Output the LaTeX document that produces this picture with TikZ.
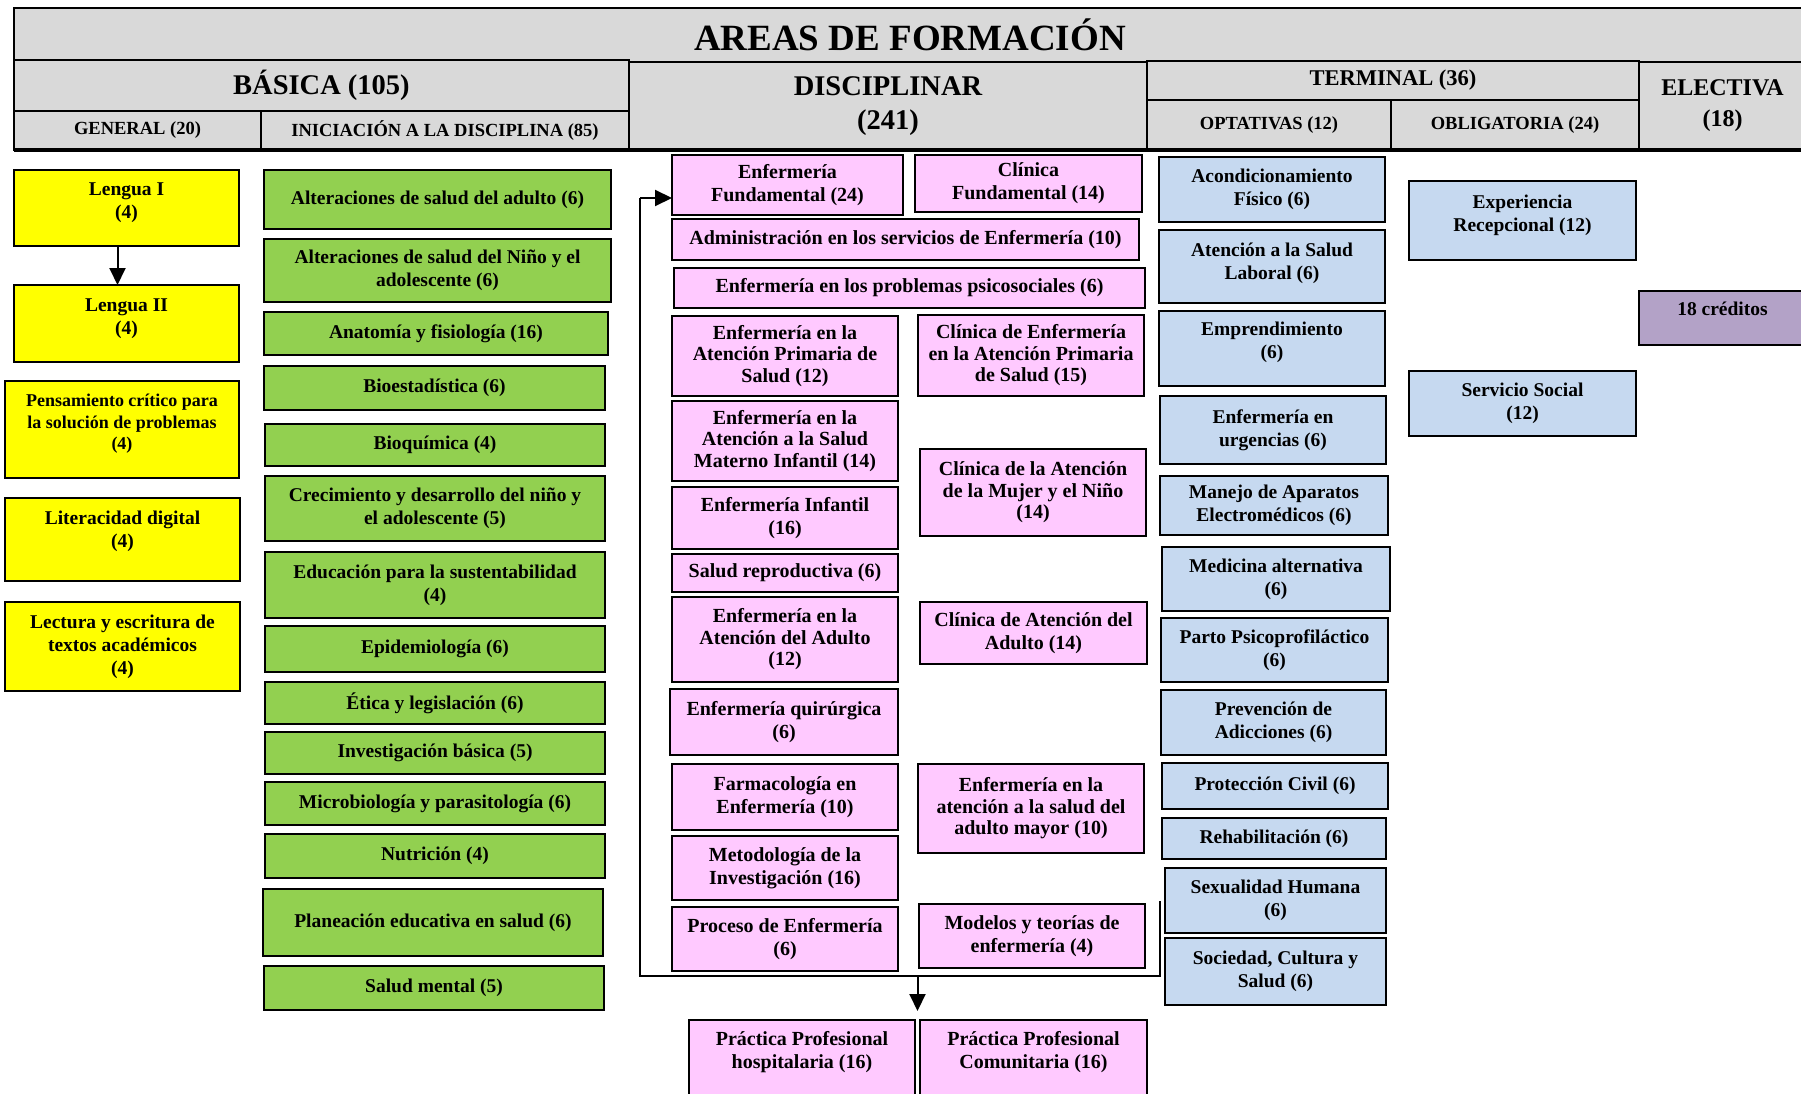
\documentclass[tikz,border=0pt]{standalone}
\usepackage{fontspec}
\setmainfont{Liberation Serif}
\usetikzlibrary{arrows.meta,calc}
\definecolor{yelC}{HTML}{FFFF00}
\definecolor{grnC}{HTML}{92D050}
\definecolor{pnkC}{HTML}{FFC9FF}
\definecolor{bluC}{HTML}{C6D9F0}
\definecolor{purC}{HTML}{B3A2C7}
\definecolor{hdrC}{HTML}{D9D9D9}
\tikzset{
  box/.style={draw=black, line width=2pt, inner sep=0pt, outer sep=0pt, anchor=north west, text=black},
  bodyfont/.style={font={\bfseries\fontsize{19.5}{23}\selectfont}},
  yel/.style={box, bodyfont, fill=yelC},
  yels/.style={box, fill=yelC, font={\bfseries\fontsize{18}{21.5}\selectfont}},
  grn/.style={box, bodyfont, fill=grnC},
  pnk/.style={box, fill=pnkC, font={\bfseries\fontsize{20}{23}\selectfont}},
  pnkt/.style={box, fill=pnkC, font={\bfseries\fontsize{20}{21.5}\selectfont}},
  blu/.style={box, bodyfont, fill=bluC},
  pur/.style={box, bodyfont, fill=purC, line width=1.5pt},
  hdr/.style={box, fill=hdrC, line width=2.5pt},
  hdrT/.style={hdr, font={\bfseries\fontsize{37}{40}\selectfont}},
  hdrB/.style={hdr, font={\bfseries\fontsize{28.5}{34}\selectfont}},
  hdrE/.style={hdr, font={\bfseries\fontsize{24}{31}\selectfont}},
  hdrM/.style={hdr, font={\bfseries\fontsize{22.5}{26}\selectfont}},
  hdrS/.style={hdr, font={\bfseries\fontsize{18.5}{22}\selectfont}},
  conn/.style={draw=black, line width=2pt},
  arr/.style={conn, -{Triangle[width=16pt,length=17pt]}},
}
% centred box: name, style, x1, y1, x2, y2, text
\newcommand\bx[7]{\node[#2] (#1) at (#3,#4) {\parbox[c][\dimexpr #6pt-#4pt\relax][c]{\dimexpr #5pt-#3pt\relax}{\centering #7\par}};}
% top aligned box: name, style, x1, y1, x2, y2, text, top pad
\newcommand\bxt[8]{\node[#2] (#1) at (#3,#4) {\parbox[c][\dimexpr #6pt-#4pt\relax][t]{\dimexpr #5pt-#3pt\relax}{\centering\vspace*{#8}#7\par}};}
\begin{document}
\begin{tikzpicture}[x=1pt,y=-1pt]
\useasboundingbox (0,0) rectangle (1801,1094);
\fill[white] (0,0) rectangle (1801,1094);
\clip (0,0) rectangle (1801,1094);
% ---------------- header ----------------
\bx{title}{hdrT}{14}{8}{1806}{62}{AREAS DE FORMACIÓN}
\bx{basica}{hdrB}{14}{60}{629}{111}{BÁSICA (105)}
\bx{general}{hdrS}{14}{111}{261}{150}{GENERAL (20)}
\bx{inic}{hdrS}{261}{111}{629}{150}{INICIACIÓN A LA DISCIPLINA (85)}
\bx{disc}{hdrB}{629}{62}{1147}{150}{DISCIPLINAR\\(241)}
\bx{term}{hdrM}{1147}{61}{1639}{100}{TERMINAL (36)}
\bx{opt}{hdrS}{1147}{100}{1391}{150}{OPTATIVAS (12)}
\bx{obl}{hdrS}{1391}{100}{1639}{150}{OBLIGATORIA (24)}
\bx{elec}{hdrE}{1639}{62}{1806}{150}{ELECTIVA\\(18)}
\draw[line width=4pt] (general.south west) -- (elec.south east);
% ---------------- GENERAL ----------------
\bxt{leng1}{yel}{14}{170}{239}{246}{Lengua I\\(4)}{13pt}
\bxt{leng2}{yel}{14}{285}{239}{362}{Lengua II\\(4)}{14pt}
\bxt{pens}{yels}{5}{381}{239}{478}{Pensamiento crítico para\\la solución de problemas\\(4)}{13pt}
\bxt{lit}{yel}{5}{498}{240}{581}{Literacidad digital\\(4)}{12.5pt}
\bx{lect}{yel}{5}{602}{240}{691}{Lectura y escritura de\\textos académicos\\(4)}
% ---------------- INICIACION ----------------
\bx{g1}{grn}{264}{170}{611}{229}{Alteraciones de salud del adulto (6)}
\bx{g2}{grn}{264}{239}{611}{302}{Alteraciones de salud del Niño y el\\adolescente (6)}
\bx{g3}{grn}{264}{312}{608}{355}{Anatomía y fisiología (16)}
\bx{g4}{grn}{264}{366}{605}{410}{Bioestadística (6)}
\bx{g5}{grn}{265}{424}{605}{466}{Bioquímica (4)}
\bx{g6}{grn}{265}{476}{605}{541}{Crecimiento y desarrollo del niño y\\el adolescente (5)}
\bx{g7}{grn}{265}{552}{605}{618}{Educación para la sustentabilidad\\(4)}
\bx{g8}{grn}{265}{626}{605}{672}{Epidemiología (6)}
\bx{g9}{grn}{265}{682}{605}{724}{Ética y legislación (6)}
\bx{g10}{grn}{265}{732}{605}{774}{Investigación básica (5)}
\bx{g11}{grn}{265}{782}{605}{825}{Microbiología y parasitología (6)}
\bx{g12}{grn}{265}{834}{605}{878}{Nutrición (4)}
\bx{g13}{grn}{263}{889}{603}{956}{Planeación educativa en salud (6)}
\bx{g14}{grn}{264}{966}{604}{1010}{Salud mental (5)}
% ---------------- DISCIPLINAR ----------------
\bx{p1}{pnk}{672}{155}{903}{215}{Enfermería\\Fundamental (24)}
\bx{p2}{pnk}{915}{155}{1142}{212}{Clínica\\Fundamental (14)}
\bx{p3}{pnk}{672}{219}{1139}{260}{Administración en los servicios de Enfermería (10)}
\bx{p4}{pnk}{674}{268}{1145}{308}{Enfermería en los problemas psicosociales (6)}
\bx{p5}{pnkt}{672}{316}{898}{396}{Enfermería en la\\Atención Primaria de\\Salud (12)}
\bx{p6}{pnkt}{918}{315}{1144}{396}{Clínica de Enfermería\\en la Atención Primaria\\de Salud (15)}
\bx{p7}{pnkt}{672}{401}{898}{481}{Enfermería en la\\Atención a la Salud\\Materno Infantil (14)}
\bx{p8}{pnk}{672}{487}{898}{549}{Enfermería Infantil\\(16)}
\bx{p9}{pnkt}{920}{449}{1146}{536}{Clínica de la Atención\\de la Mujer y el Niño\\(14)}
\bx{p10}{pnk}{672}{554}{898}{592}{Salud reproductiva (6)}
\bx{p11}{pnkt}{672}{597}{898}{682}{Enfermería en la\\Atención del Adulto\\(12)}
\bx{p12}{pnk}{920}{602}{1147}{664}{Clínica de Atención del\\Adulto (14)}
\bx{p13}{pnk}{670}{689}{898}{755}{Enfermería quirúrgica\\(6)}
\bx{p14}{pnk}{672}{764}{898}{830}{Farmacología en\\Enfermería (10)}
\bx{p15}{pnkt}{918}{764}{1144}{853}{Enfermería en la\\atención a la salud del\\adulto mayor (10)}
\bx{p16}{pnk}{672}{836}{898}{900}{Metodología de la\\Investigación (16)}
\bx{p17}{pnk}{672}{907}{898}{971}{Proceso de Enfermería\\(6)}
\bx{p18}{pnk}{919}{904}{1145}{968}{Modelos y teorías de\\enfermería (4)}
\bxt{pr1}{pnk}{689}{1020}{915}{1110}{Práctica Profesional\\hospitalaria (16)}{11pt}
\bxt{pr2}{pnk}{920}{1020}{1147}{1110}{Práctica Profesional\\Comunitaria (16)}{11pt}
% ---------------- OPTATIVAS ----------------
\bx{o1}{blu}{1159}{157}{1385}{222}{Acondicionamiento\\Físico (6)}
\bxt{o2}{blu}{1159}{230}{1385}{303}{Atención a la Salud\\Laboral (6)}{12.5pt}
\bxt{o3}{blu}{1159}{311}{1385}{386}{Emprendimiento\\(6)}{11pt}
\bx{o4}{blu}{1160}{396}{1386}{464}{Enfermería en\\urgencias (6)}
\bx{o5}{blu}{1160}{476}{1388}{535}{Manejo de Aparatos\\Electromédicos (6)}
\bx{o6}{blu}{1162}{547}{1390}{611}{Medicina alternativa\\(6)}
\bx{o7}{blu}{1161}{618}{1388}{682}{Parto Psicoprofiláctico\\(6)}
\bx{o8}{blu}{1161}{690}{1386}{755}{Prevención de\\Adicciones (6)}
\bx{o9}{blu}{1162}{763}{1388}{809}{Protección Civil (6)}
\bx{o10}{blu}{1162}{818}{1386}{859}{Rehabilitación (6)}
\bx{o11}{blu}{1165}{868}{1386}{933}{Sexualidad Humana\\(6)}
\bx{o12}{blu}{1165}{938}{1386}{1005}{Sociedad, Cultura y\\Salud (6)}
% ---------------- OBLIGATORIA ----------------
\bxt{b1}{blu}{1409}{181}{1636}{260}{Experiencia\\Recepcional (12)}{14pt}
\bx{b2}{blu}{1409}{371}{1636}{436}{Servicio Social\\(12)}
% ---------------- ELECTIVA ----------------
\bxt{e1}{pur}{1639}{291}{1806}{345}{18 créditos}{11pt}
% ---------------- connectors ----------------
\coordinate (la) at ($(leng1.south west)!0.46!(leng1.south east)$);
\draw[arr] (la) -- (la |- leng2.north);
\coordinate (rt) at (1160,901);
\coordinate (br) at (1160,976);
\coordinate (bl) at (640,976);
\coordinate (lt) at (640,198);
\draw[conn] (rt) -- (br) -- (bl) -- (lt);
\draw[arr] (lt) -- (lt -| p1.west);
\coordinate (drop) at ($(pr1.north east)!0.5!(pr2.north west)$);
\draw[arr] (drop |- bl) -- ([yshift=9pt]drop);
\end{tikzpicture}
\end{document}
